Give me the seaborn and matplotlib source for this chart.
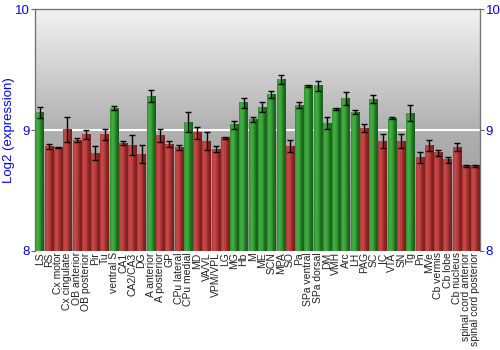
import numpy as np
import pandas as pd
import matplotlib
matplotlib.use("Agg")
import matplotlib.pyplot as plt
from matplotlib.colors import LinearSegmentedColormap
import seaborn as sns

regions = ["LS", "RS", "Cx motor", "Cx cingulate", "OB anterior", "OB posterior", "Pir", "Tu",
           "ventral S", "CA1", "CA2/CA3", "DG", "A anterior", "A posterior", "GP", "CPu lateral",
           "CPu medial", "MD", "VA/VL", "VPM/VPL", "LG", "MG", "Hb", "M", "ME", "SCN", "MPA",
           "SO", "Pa", "SPa ventral", "SPa dorsal", "DM", "VMH", "Arc", "LH", "PAG", "SC", "IC",
           "VTA", "SN", "Tg", "Pn", "MVe", "Cb vermis", "Cb lobe", "Cb nucleus",
           "spinal cord anterior", "spinal cord posterior"]

expression = [9.146, 8.865, 8.854, 9.003, 8.914, 8.961, 8.810, 8.964,
              9.182, 8.892, 8.876, 8.800, 9.279, 8.956, 8.884, 8.854,
              9.066, 8.978, 8.909, 8.843, 8.936, 9.044, 9.227, 9.088, 9.190, 9.293, 9.420,
              8.867, 9.207, 9.365, 9.365, 9.058, 9.177, 9.260, 9.149, 9.017, 9.254, 8.909,
              9.097, 8.909, 9.141, 8.776, 8.873, 8.812, 8.754, 8.859,
              8.704, 8.704]

errors = [0.045, 0.023, 0.003, 0.106, 0.017, 0.037, 0.060, 0.048,
          0.020, 0.018, 0.079, 0.075, 0.050, 0.052, 0.025, 0.023,
          0.083, 0.050, 0.073, 0.028, 0.008, 0.032, 0.041, 0.022, 0.040, 0.026, 0.039,
          0.050, 0.023, 0.006, 0.044, 0.047, 0.008, 0.051, 0.014, 0.033, 0.033, 0.058,
          0.008, 0.058, 0.065, 0.046, 0.044, 0.025, 0.025, 0.033,
          0.008, 0.008]

level = ["high", "low", "low", "low", "low", "low", "low", "low",
         "high", "low", "low", "low", "high", "low", "low", "low",
         "high", "low", "low", "low", "low", "high", "high", "high", "high", "high", "high",
         "low", "high", "high", "high", "high", "high", "high", "high", "low", "high", "low",
         "high", "low", "high", "low", "low", "low", "low", "low",
         "low", "low"]

df = pd.DataFrame({"region": regions, "expression": expression, "level": level})

sns.set_theme(style="white")
plt.rcParams["font.family"] = ["Liberation Sans", "DejaVu Sans"]

fig = plt.figure(figsize=(5, 3.5), dpi=100)
ax = fig.add_axes([0.07, 0.283, 0.89, 0.691])

palette = {"high": "#2e8b2e", "low": "#a83232"}
sns.barplot(data=df, x="region", y="expression", hue="level", palette=palette,
            dodge=False, errorbar=None, width=0.9, legend=False, ax=ax, zorder=3)

n = len(regions)
ax.set_ylim(8, 10)
ax.set_xlim(-0.5, n - 0.5)

# Grey vertical gradient behind the bars
bg = LinearSegmentedColormap.from_list("bg", ["#8e8e8e", "#b0b0b0", "#f2f2f2"])
ax.imshow(np.linspace(0, 1, 256).reshape(-1, 1), cmap=bg, origin="lower", aspect="auto",
          extent=(-0.5, n - 0.5, 8, 10), zorder=0)
ax.axhline(9, color="white", lw=1.5, zorder=1)

# Horizontal shading on each bar, picked by the bar's category position
shades = {
    "high": LinearSegmentedColormap.from_list("g", ["#2f8f2f", "#45b045", "#37a037", "#1e701e", "#1a5e1a"]),
    "low": LinearSegmentedColormap.from_list("r", ["#a83a3a", "#cc4a4a", "#b63c3c", "#8c2424", "#7a1e1e"]),
}
grad = np.linspace(0, 1, 64).reshape(1, -1)
for patch in list(ax.patches):
    x0 = patch.get_x()
    w = patch.get_width()
    h = patch.get_height()
    if not np.isfinite(h) or h <= 8:
        continue
    idx = int(round(x0 + w / 2))
    patch.set_alpha(0)
    ax.imshow(grad, cmap=shades[level[idx]], aspect="auto", extent=(x0, x0 + w, 8, h), zorder=3)

ax.errorbar(np.arange(n), expression, yerr=errors, fmt="none", ecolor="black",
            elinewidth=1.0, capsize=2.2, capthick=1.0, zorder=5)

ax.set_xlim(-0.5, n - 0.5)
ax.set_ylim(8, 10)

ax.set_xlabel("")
ax.set_ylabel("Log2 (expression)", color="blue", fontsize=9.5)
ax.yaxis.set_label_coords(-0.046, 0.5)
ax.set_yticks([8, 9, 10])
ax.tick_params(axis="y", colors="#666666", labelcolor="blue", labelsize=9.5, length=3,
               width=0.8, left=True, right=True, labelleft=True, labelright=True, pad=1)
ax.set_xticks(range(n))
ax.set_xticklabels(regions, rotation=90, fontsize=7.5, color="#222222")
ax.tick_params(axis="x", length=0, pad=1)

for side in ["left", "right", "top"]:
    ax.spines[side].set_color("#777777")
    ax.spines[side].set_linewidth(1.0)
ax.spines["bottom"].set_visible(False)

fig.savefig("out.png", dpi=100)
